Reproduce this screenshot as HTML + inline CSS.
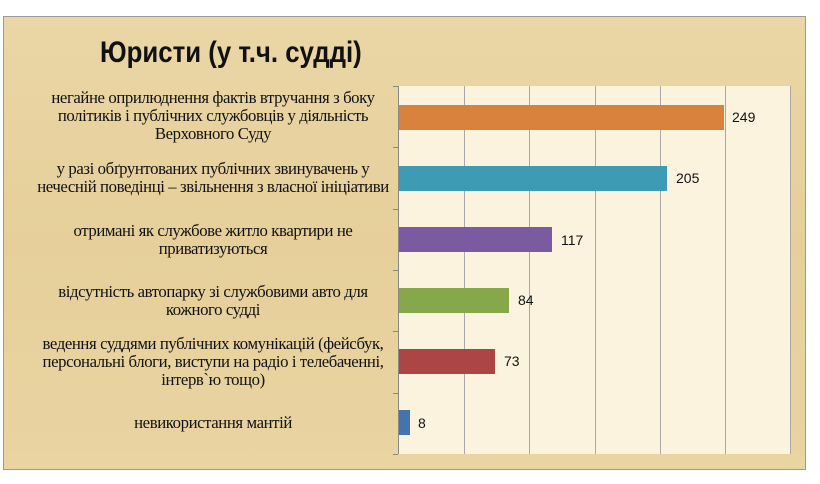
<!DOCTYPE html>
<html><head><meta charset="utf-8"><style>
body{margin:0;width:820px;height:484px;background:#fff;position:relative;overflow:hidden;font-family:"Liberation Serif","DejaVu Serif",serif}
.panel{position:absolute;left:3px;top:16px;width:803px;height:454px;background:linear-gradient(180deg,#ead6a6,#e6cf9a 50%,#e9d4a2);border:1px solid #9a9a9a;box-sizing:border-box}
.title{position:absolute;left:100px;top:36px;font-family:"Liberation Sans",sans-serif;font-weight:bold;font-size:30px;color:#111;transform:scaleX(0.86);transform-origin:left top;white-space:nowrap}
.plot{position:absolute;left:398px;top:86px;width:392px;height:368px;background:#fcf3df;border-left:1px solid #888}
.g{position:absolute;top:0;height:368px;width:1px;background:#a8a8a8}
.bar{position:absolute;left:0;height:25px}
.v{position:absolute;font-family:"Liberation Sans",sans-serif;font-size:14px;color:#111}
.lab{position:absolute;left:13px;width:400px;text-align:center;font-size:16.5px;line-height:18px;color:#111;letter-spacing:-0.4px;transform:scaleX(1.015);transform-origin:center top;white-space:nowrap}
.tk{position:absolute;left:393px;width:5px;height:1px;background:#888}
</style></head><body>
<div class="panel"></div>
<div class="title">Юристи (у т.ч. судді)</div>
<div class="plot">
<div class="g" style="left:65px"></div><div class="g" style="left:130px"></div><div class="g" style="left:196px"></div><div class="g" style="left:261px"></div><div class="g" style="left:326px"></div><div class="g" style="left:391px"></div>
<div class="bar" style="top:19px;width:325px;background:#d9823e"></div>
<div class="bar" style="top:80px;width:268px;background:#3e9bb4"></div>
<div class="bar" style="top:141px;width:153px;background:#7a5aa0"></div>
<div class="bar" style="top:202px;width:110px;background:#86a84a"></div>
<div class="bar" style="top:263px;width:96px;background:#ab4644"></div>
<div class="bar" style="top:324px;width:11px;background:#4474ae"></div>
</div>
<div class="tk" style="top:86px"></div><div class="tk" style="top:147px"></div><div class="tk" style="top:209px"></div><div class="tk" style="top:270px"></div><div class="tk" style="top:331px"></div><div class="tk" style="top:393px"></div><div class="tk" style="top:454px"></div>
<div class="v" style="left:732px;top:109px">249</div>
<div class="v" style="left:676px;top:170px">205</div>
<div class="v" style="left:561px;top:232px">117</div>
<div class="v" style="left:518px;top:292px">84</div>
<div class="v" style="left:504px;top:353px">73</div>
<div class="v" style="left:418px;top:415px">8</div>
<div class="lab" style="top:89px">негайне оприлюднення фактів втручання з боку<br>політиків і публічних службовців у діяльність<br>Верховного Суду</div>
<div class="lab" style="top:160px">у разі обґрунтованих публічних звинувачень у<br>нечесній поведінці – звільнення з власної ініціативи</div>
<div class="lab" style="top:222px">отримані як службове житло квартири не<br>приватизуються</div>
<div class="lab" style="top:283px">відсутність автопарку зі службовими авто для<br>кожного судді</div>
<div class="lab" style="top:335px">ведення суддями публічних комунікацій (фейсбук,<br>персональні блоги, виступи на радіо і телебаченні,<br>інтерв`ю тощо)</div>
<div class="lab" style="top:414px">невикористання мантій</div>
</body></html>
